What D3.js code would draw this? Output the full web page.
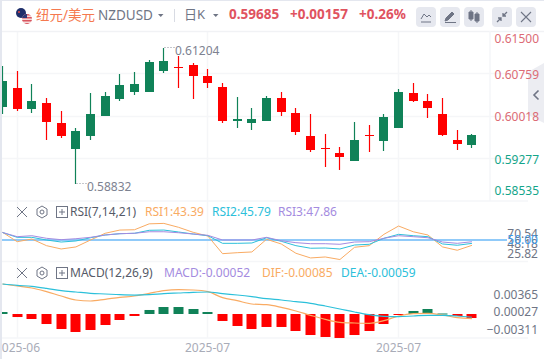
<!DOCTYPE html>
<html>
<head>
<meta charset="utf-8">
<script src="https://cdn.jsdelivr.net/npm/d3@7"></script>
<style>
html, body { margin: 0; padding: 0; background: #fff; overflow: hidden; }
svg { display: block; }
text { font-family: "Noto Sans", "Noto Sans CJK SC", sans-serif; }
</style>
</head>
<body>
<svg id="chart"></svg>
<script>
const width = 544;
const height = 359;

// candles
const opens  = [.60175,.60506,.60140,.60245,.59896,.59443,.59669,.60018,.60314,.60436,.60436,.60803,.60872,.60907,.60715,.60524,.59931,.59896,.59931,.60332,.60070,.59669,.59460,.59373,.59233,.59687,.59582,.59809,.60419,.60280,.60053,.59600,.59512];
const closes = [.60628,.60140,.60280,.59913,.59669,.59756,.60053,.60367,.60559,.60576,.60960,.60977,.60872,.60715,.60593,.59931,.59966,.59966,.60332,.60088,.59739,.59425,.59460,.59303,.59600,.59687,.60001,.60436,.60280,.60158,.59687,.59530,.59687];
const highs  = [.60890,.60803,.60576,.60332,.60105,.59809,.60419,.60436,.60750,.60785,.60994,.61204,.61064,.60942,.60837,.60593,.60349,.60158,.60367,.60436,.60158,.60053,.59704,.59478,.59913,.59861,.60053,.60489,.60593,.60402,.60332,.59774,.59704];
const lows   = [.60053,.60105,.60070,.59600,.59634,.58832,.59600,.60018,.60280,.60384,.60436,.60768,.60506,.60314,.60506,.59896,.59809,.59774,.59931,.60018,.59687,.59390,.59129,.59077,.59233,.59390,.59408,.59809,.60262,.59983,.59669,.59425,.59460];

const rsi1 = [59.5,47.9,51.2,43.0,38.9,41.4,50.0,58.3,62.3,62.7,70.0,70.54,65.7,59.5,54.9,33.1,34.3,35.2,50.9,45.1,33.6,27.8,29.0,25.82,41.0,43.0,57.0,67.3,60.2,56.2,41.4,37.3,43.39];
const rsi2 = [59.3,53.3,53.3,50.0,47.5,48.8,52.8,56.2,57.8,58.3,62.0,62.3,59.9,57.4,55.3,45.9,45.9,46.3,52.8,48.4,43.0,39.8,40.1,38.9,43.8,44.7,52.1,57.0,55.3,54.1,45.1,43.5,45.79];
const rsi3 = [59.3,54.1,55.3,52.1,50.4,51.6,53.3,56.2,57.8,58.3,60.2,60.2,59.0,57.4,55.8,50.0,50.0,50.0,53.3,49.1,46.7,45.4,45.4,44.7,47.5,47.9,52.1,55.3,54.1,52.8,47.5,45.9,47.86];

const macdBars = [.00036,-.00055,-.00091,-.00182,-.00273,-.00327,-.00291,-.00200,-.00109,-.00036,.00073,.00127,.00127,.00091,.00036,-.00127,-.00218,-.00273,-.00236,-.00236,-.00309,-.00382,-.00418,-.00436,-.00382,-.00309,-.00182,-.00018,.00055,.00091,.00009,-.00036,-.00073];
const dif = [.00545,.00509,.00473,.00406,.00327,.00255,.00236,.00267,.00303,.00327,.00376,.00424,.00442,.00436,.00406,.00297,.00242,.00182,.00170,.00121,.00055,-.00024,-.00097,-.00152,-.00164,-.00170,-.00121,-.00036,.00006,.00012,-.00018,-.00067,-.00085];
const dea = [.00545,.00521,.00503,.00467,.00424,.00400,.00376,.00364,.00351,.00345,.00351,.00370,.00382,.00394,.00400,.00370,.00345,.00315,.00279,.00255,.00224,.00194,.00145,.00091,.00036,-.00012,-.00042,-.00048,-.00036,-.00024,-.00024,-.00036,-.00059];

const priceTicks = [0.615, 0.60759, 0.60018, 0.59277, 0.58535];
const rsiTicks = [70.54, 48.18, 25.82];
const macdTicks = [0.00365, 0.00027, -0.00311];
const dateTicks = [1, 14, 27];
const dateLabels = ["2025-06", "2025-07", "2025-07"];

const GREEN = "#108258", RED = "#ff0000";
const ORANGE = "#f9ab63", CYAN = "#2cc0da", PURPLE = "#a48be0";
const GRID = "#f5f6f8";

const svg = d3.select("#chart").attr("width", width).attr("height", height);

const x = d3.scaleLinear().domain([0, 32]).range([2.5, 471.94]);
const px = i => Math.floor(x(i)) + 0.5;
const yPrice = d3.scaleLinear().domain([0.60018, 0.61500]).range([116, 31]);
const yRsi = d3.scaleLinear().domain([50, 70.54]).range([240, 223.4]);
const yRsiLabel = d3.scaleLinear().domain([25.82, 70.54]).range([254, 234]);
const yMacd = d3.scaleLinear().domain([0, 0.001]).range([314, 308.5]);
const yMacdLabel = d3.scaleLinear().domain([-0.00311, 0.00365]).range([329.3, 295]);

// side tab sits under the price labels
svg.append("path").attr("d", "M528 72L544 63V123L528 115z").attr("fill", "#ecedf2");
svg.append("path").attr("d", "M538.5 90.5l-4.5 4.5 4.5 4.5").attr("fill", "none").attr("stroke", "#6f7585").attr("stroke-width", 1.6);

// grid
const grid = svg.append("g").attr("stroke", GRID).attr("stroke-width", 1.5);
grid.selectAll("line.v").data(dateTicks).join("line")
  .attr("class", "v").attr("x1", px).attr("x2", px).attr("y1", 31).attr("y2", 338);
grid.selectAll("line.h").data([73.5, 116.5, 158.5, 201, 261.5, 338]).join("line")
  .attr("class", "h").attr("x1", 2).attr("x2", 528).attr("y1", d => d).attr("y2", d => d);
grid.append("line").attr("x1", 2).attr("x2", 544).attr("y1", 31.5).attr("y2", 31.5).attr("stroke", "#f1f2f5");
grid.append("line").attr("x1", 490).attr("x2", 490).attr("y1", 31).attr("y2", 201);

// clip so the first candle is cut by the panel edge
svg.append("clipPath").attr("id", "plot").append("rect").attr("x", 2).attr("y", 0).attr("width", 542).attr("height", height);
const plot = svg.append("g").attr("clip-path", "url(#plot)");

const idx = d3.range(opens.length);
const candleColor = i => closes[i] > opens[i] ? GREEN : RED;

plot.append("g").selectAll("line").data(idx).join("line")
  .attr("x1", px).attr("x2", px)
  .attr("y1", i => yPrice(highs[i])).attr("y2", i => yPrice(lows[i]))
  .attr("stroke", candleColor).attr("stroke-width", 1.2);

plot.append("g").selectAll("rect").data(idx).join("rect")
  .attr("x", i => px(i) - 4.5).attr("width", 9)
  .attr("y", i => Math.round(yPrice(Math.max(opens[i], closes[i]))))
  .attr("height", i => Math.max(1, Math.round(Math.abs(yPrice(opens[i]) - yPrice(closes[i])))))
  .attr("fill", candleColor);

// high / low notes
function note(i, value, textX, textY) {
  const yy = Math.round(yPrice(value)) - 0.5;
  svg.append("line").attr("x1", px(i) + 1).attr("x2", px(i) + 11).attr("y1", yy).attr("y2", yy)
    .attr("stroke", "#8a8e9b").attr("stroke-dasharray", "1 2");
  svg.append("text").attr("x", textX).attr("y", textY).attr("font-size", 12).attr("fill", "#7d8291").text(value.toFixed(5));
}
note(11, d3.max(highs), 175, 55);
note(5, d3.min(lows), 87, 191);

// RSI lines
const rsiLine = d3.line().x((d, i) => x(i)).y(d => yRsi(d));
plot.append("line").attr("x1", 2).attr("x2", 507).attr("y1", yRsi(50)).attr("y2", yRsi(50))
  .attr("stroke", "#90caf9").attr("stroke-width", 2);
[[rsi1, ORANGE], [rsi2, CYAN], [rsi3, PURPLE]].forEach(([vals, col]) => {
  plot.append("path").attr("d", rsiLine(vals)).attr("fill", "none").attr("stroke", col).attr("stroke-width", 1);
});

// MACD
plot.append("g").selectAll("rect").data(macdBars).join("rect")
  .attr("x", (d, i) => px(i) - 5).attr("width", 10)
  .attr("y", d => d > 0 ? yMacd(d) : yMacd(0))
  .attr("height", d => Math.max(1, Math.abs(yMacd(d) - yMacd(0))))
  .attr("fill", d => d > 0 ? GREEN : RED);
const macdLine = d3.line().x((d, i) => x(i)).y(d => yMacd(d)).curve(d3.curveMonotoneX);
[[dif, ORANGE], [dea, CYAN]].forEach(([vals, col]) => {
  plot.append("path").attr("d", macdLine(vals)).attr("fill", "none").attr("stroke", col).attr("stroke-width", 1.2);
});

// axes
function cleanAxis(g) {
  g.select(".domain").remove();
  g.selectAll(".tick line").remove();
  g.selectAll("text").attr("font-family", null).attr("font-size", 12);
}

const priceAxis = svg.append("g").attr("transform", "translate(539,0)")
  .call(d3.axisLeft(yPrice).tickValues(priceTicks).tickFormat(d3.format(".5f")).tickSize(0).tickPadding(0))
  .call(cleanAxis);
priceAxis.selectAll(".tick").attr("transform", d => `translate(0,${Math.max(39, Math.min(191, yPrice(d) + 1.5))})`);
priceAxis.selectAll("text").attr("fill", d => d > 0.6 ? "#dc6b75" : "#14a58a");

svg.append("g").attr("transform", "translate(538,0)")
  .call(d3.axisLeft(yRsiLabel).tickValues(rsiTicks).tickFormat(d3.format(".2f")).tickSize(0).tickPadding(0))
  .call(cleanAxis)
  .selectAll("text").attr("fill", "#6f7585");

svg.append("text").attr("x", 538).attr("y", yRsi(50)).attr("dy", "0.32em").attr("text-anchor", "end")
  .attr("font-size", 12).attr("fill", "#3d9be9").text((50).toFixed(2));

svg.append("g").attr("transform", "translate(538,0)")
  .call(d3.axisLeft(yMacdLabel).tickValues(macdTicks).tickFormat(d3.format(".5f")).tickSize(0).tickPadding(0))
  .call(cleanAxis)
  .selectAll("text").attr("fill", "#6f7585");

const dateAxis = plot.append("g").attr("transform", "translate(0,343)")
  .call(d3.axisBottom(x).tickValues(dateTicks).tickFormat(d => dateLabels[dateTicks.indexOf(d)]).tickSize(0).tickPadding(0))
  .call(cleanAxis);
dateAxis.selectAll(".tick").attr("transform", d => `translate(${px(d)},0)`);
dateAxis.selectAll("text").attr("fill", "#a9acb8");

// header
function label(txt, tx, ty, col, size, weight) {
  return svg.append("text").attr("x", tx).attr("y", ty).attr("fill", col)
    .attr("font-size", size).attr("font-weight", weight || 400).text(txt);
}
label("纽元/美元", 36, 20, "#f5794f", 13.5).attr("font-family", '"Noto Sans CJK SC"');
label("NZDUSD", 98, 20, "#6f7585", 13.5);
label("日K", 184, 19, "#6f7585", 13).attr("font-family", '"Noto Sans CJK SC"');
label("0.59685", 229, 19, "#e0535f", 13.5, 700);
label("+0.00157", 290, 19, "#e0535f", 13.5, 700);
label("+0.26%", 359, 19, "#e0535f", 13.5, 700);

svg.append("path").attr("d", "M158 14h5.5l-2.75 3z").attr("fill", "#6f7585");
svg.append("path").attr("d", "M213 14h5.5l-2.75 3z").attr("fill", "#6f7585");
svg.append("line").attr("x1", 174.5).attr("x2", 174.5).attr("y1", 9).attr("y2", 22).attr("stroke", "#d8dbe3");

// flag
svg.append("circle").attr("cx", 21).attr("cy", 13).attr("r", 5).attr("fill", "#1f2f6b");
svg.append("circle").attr("cx", 19).attr("cy", 12).attr("r", 1).attr("fill", "#e04a4a");
svg.append("clipPath").attr("id", "us").append("circle").attr("cx", 27).attr("cy", 19).attr("r", 5);
const us = svg.append("g").attr("clip-path", "url(#us)");
us.append("rect").attr("x", 22).attr("y", 14).attr("width", 10).attr("height", 10).attr("fill", "#f4dada");
[14, 17, 20, 23].forEach(s => us.append("rect").attr("x", 22).attr("y", s).attr("width", 10).attr("height", 1.5).attr("fill", "#d9555f"));
us.append("rect").attr("x", 22).attr("y", 14).attr("width", 5).attr("height", 4).attr("fill", "#2c3a78");

// toolbar buttons
[416, 440, 464, 492, 516].forEach(b => {
  svg.append("rect").attr("x", b).attr("y", 7).attr("width", 20).attr("height", 20).attr("rx", 4).attr("fill", "#e6e8ef");
});
const iconCol = "#6f7585";
svg.append("path").attr("d", "M421 19l3-5 3 3 2-2 2 2M421 22h10").attr("fill", "none").attr("stroke", iconCol);
svg.append("path").attr("d", "M445 21l1-3 6-6 2 2-6 6zM445 22.5h11").attr("fill", iconCol).attr("stroke", iconCol).attr("stroke-width", 1);
svg.append("path").attr("d", "M469 12h4v7h-4zM475 14h4v7h-4zM471 10v11M477 12v11").attr("fill", iconCol).attr("stroke", iconCol);
svg.append("path").attr("d", "M497 22l4-4M501 21v-3h-3M507 12l-4 4M503 13v3h3").attr("fill", "none").attr("stroke", iconCol).attr("stroke-width", 1.3);
svg.append("path").attr("d", "M521 12l10 10M531 12l-10 10").attr("fill", "none").attr("stroke", iconCol).attr("stroke-width", 1.1);

// pane headers
function paneHeader(yy, title) {
  const c = yy;
  svg.append("path").attr("d", `M17 ${c - 5}l10 10M27 ${c - 5}l-10 10`).attr("fill", "none").attr("stroke", "#6f7585");
  svg.append("path").attr("d", `M42 ${c - 6}l5 3v6l-5 3-5-3v-6z`).attr("fill", "none").attr("stroke", "#6f7585");
  svg.append("circle").attr("cx", 42).attr("cy", c).attr("r", 2).attr("fill", "none").attr("stroke", "#6f7585");
  svg.append("rect").attr("x", 56.5).attr("y", c - 5.5).attr("width", 11).attr("height", 11).attr("fill", "none").attr("stroke", "#6f7585");
  svg.append("path").attr("d", `M62 ${c - 3}v6M59 ${c}h6`).attr("stroke", "#6f7585");
  label(title, 70, c + 4, "#555a68", 12);
}
paneHeader(212, "RSI(7,14,21)");
label("RSI1:43.39", 145, 216, ORANGE, 12);
label("RSI2:45.79", 212, 216, CYAN, 12);
label("RSI3:47.86", 278, 216, PURPLE, 12);

paneHeader(273, "MACD(12,26,9)");
label("MACD:-0.00052", 164, 277, PURPLE, 12);
label("DIF:-0.00085", 262, 277, ORANGE, 12);
label("DEA:-0.00059", 341, 277, CYAN, 12);

// page edge
svg.append("rect").attr("x", 0).attr("y", 0).attr("width", 2).attr("height", height).attr("fill", "#e4e7ef");
svg.append("rect").attr("x", 0).attr("y", 0).attr("width", width).attr("height", 1).attr("fill", "#e4e7ef");
</script>
</body>
</html>
